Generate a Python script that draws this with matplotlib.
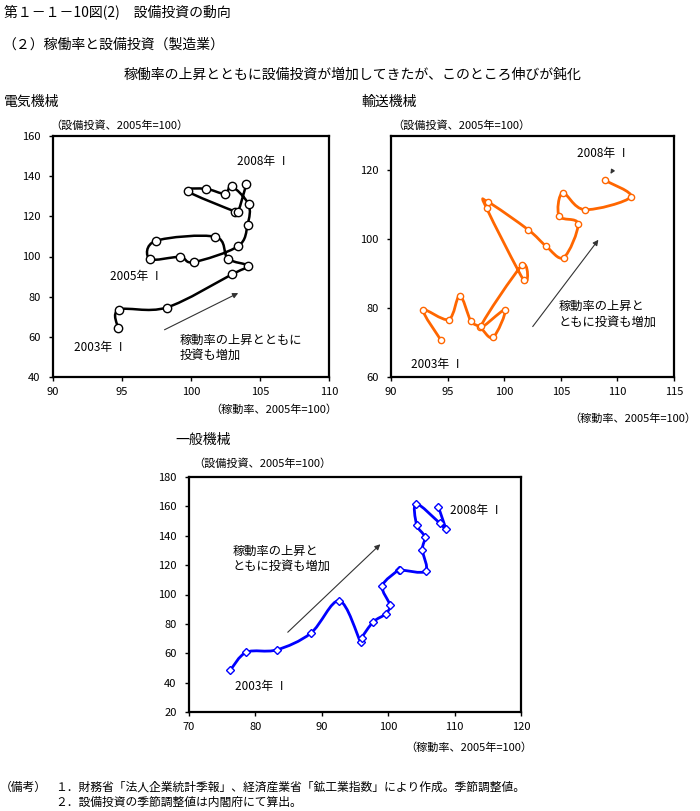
import numpy as np
import matplotlib
matplotlib.use("Agg")
import matplotlib.pyplot as plt
from matplotlib.path import Path
from matplotlib.patches import PathPatch

plt.rcParams["font.family"] = ["Noto Sans CJK JP", "DejaVu Sans"]

# 電気機械 (2003 I - 2008 I)
elec_util = [94.72, 94.77, 98.24, 102.99, 104.10, 102.67, 101.76, 97.45, 97.01, 99.20, 100.19,
             103.40, 104.10, 104.17, 102.94, 102.46, 101.08, 99.76, 103.18, 103.42, 104.02]
elec_inv = [64.2, 73.5, 74.6, 91.2, 95.4, 99.0, 109.8, 107.8, 98.7, 99.8, 97.2,
            105.1, 115.9, 126.0, 135.0, 131.2, 133.7, 132.5, 122.4, 122.4, 136.2]

# 輸送機械
trans_util = [94.39, 92.86, 95.10, 96.07, 97.04, 97.86, 99.01, 100.07, 97.95, 101.55, 101.72,
              98.45, 98.54, 102.11, 103.67, 105.26, 106.52, 104.85, 105.17, 107.11, 111.18, 108.91]
trans_inv = [70.8, 79.4, 76.7, 83.6, 76.4, 74.5, 71.5, 79.5, 74.8, 92.4, 88.1,
             109.0, 110.9, 102.8, 98.1, 94.7, 104.5, 106.7, 113.5, 108.6, 112.3, 117.1]

# 一般機械
gen_util = [76.24, 78.65, 83.21, 88.33, 92.64, 95.86, 96.00, 97.76, 99.62, 100.22, 99.12,
            101.58, 101.83, 105.64, 105.14, 105.49, 104.28, 104.23, 107.80, 108.65, 107.55]
gen_inv = [48.6, 60.7, 62.3, 73.6, 95.7, 67.5, 70.5, 81.4, 86.8, 93.0, 105.9,
           116.8, 116.8, 115.9, 130.5, 139.3, 147.5, 161.8, 148.4, 144.5, 159.8]

NOTE_TEXT = "稼動率の上昇と\nともに投資も増加"
Y_UNIT = "（設備投資、2005年=100）"
X_UNIT = "（稼動率、2005年=100）"


def smooth_line(ax, xs, ys, color, lw):
    # catmull-rom style bezier through the points (like spreadsheet smoothed lines)
    p = np.column_stack([xs, ys]).astype(float)
    n = len(p)
    verts = [p[0]]
    codes = [Path.MOVETO]
    for i in range(n - 1):
        p0 = p[i - 1] if i > 0 else p[i]
        p3 = p[i + 2] if i + 2 < n else p[i + 1]
        c1 = p[i] + (p[i + 1] - p0) / 6.0
        c2 = p[i + 1] - (p3 - p[i]) / 6.0
        verts += [c1, c2, p[i + 1]]
        codes += [Path.CURVE4] * 3
    patch = PathPatch(Path(verts, codes), facecolor="none", edgecolor=color, lw=lw,
                      capstyle="round", joinstyle="round", zorder=2)
    ax.add_patch(patch)


def setup_axes(ax, xlim, xstep, ylim, ystep):
    ax.set_xlim(*xlim)
    ax.set_ylim(*ylim)
    ax.set_xticks(np.arange(xlim[0], xlim[1] + 0.1, xstep))
    ax.set_yticks(np.arange(ylim[0], ylim[1] + 0.1, ystep))
    for s in ax.spines.values():
        s.set_linewidth(1.6)
    ax.tick_params(direction="out", length=3, width=1, labelsize=8)
    ax.tick_params(axis="x", pad=4)
    ax.tick_params(axis="y", pad=6)


def draw_series(ax, xs, ys, color, lw, marker, ms):
    smooth_line(ax, xs, ys, color, lw)
    ax.plot(xs, ys, linestyle="none", marker=marker, ms=ms, mfc="white", mec=color,
            mew=1.0, zorder=3)


def arrow(ax, start, end, scale=8):
    ax.annotate("", xy=end, xytext=start,
                arrowprops=dict(arrowstyle="-|>", color="#333333", lw=0.8, mutation_scale=scale))


fig = plt.figure(figsize=(7, 8.11), dpi=100)

fig.text(0.005, 1 - 12 / 811, "第１－１－10図(2)　設備投資の動向", fontsize=10, va="center")
fig.text(0.004, 1 - 45 / 811, "（２）稼働率と設備投資（製造業）", fontsize=10, va="center")
fig.text(0.503, 1 - 75 / 811, "稼働率の上昇とともに設備投資が増加してきたが、このところ伸びが鈍化",
         fontsize=10, va="center", ha="center")
fig.text(0.005, 1 - 102 / 811, "電気機械", fontsize=10, va="center")
fig.text(362 / 700, 1 - 102 / 811, "輸送機械", fontsize=10, va="center")
fig.text(175 / 700, 1 - 440 / 811, "一般機械", fontsize=10, va="center")

# 電気機械
ax1 = fig.add_axes([53 / 700, 1 - 377 / 811, 276 / 700, 241 / 811])
setup_axes(ax1, (90, 110), 5, (40, 160), 20)
draw_series(ax1, elec_util, elec_inv, "black", 1.8, "o", 6)
ax1.text(103.3, 147.4, "2008年 Ⅰ", fontsize=8.5, va="center")
ax1.text(94.1, 90.2, "2005年 Ⅰ", fontsize=8.5, va="center")
ax1.text(91.5, 54.6, "2003年 Ⅰ", fontsize=8.5, va="center")
arrow(ax1, (97.9, 62.9), (103.6, 82.4))
ax1.text(99.2, 54.6, "稼動率の上昇とともに\n投資も増加", fontsize=8.8, va="center", linespacing=1.25)
fig.text(50 / 700, 1 - 126 / 811, Y_UNIT, fontsize=8, va="center")
fig.text(337 / 700, 1 - 410 / 811, X_UNIT, fontsize=8, va="center", ha="right")

# 輸送機械
ax2 = fig.add_axes([391 / 700, 1 - 377 / 811, 283 / 700, 241 / 811])
setup_axes(ax2, (90, 115), 5, (60, 130), 20)
draw_series(ax2, trans_util, trans_inv, "#FF6600", 2.0, "o", 4.5)
ax2.text(106.4, 124.8, "2008年 Ⅰ", fontsize=8.5, va="center")
arrow(ax2, (109.73, 120.8), (109.26, 118.3), scale=6)
ax2.text(91.8, 63.75, "2003年 Ⅰ", fontsize=8.5, va="center")
arrow(ax2, (102.37, 74.0), (108.47, 100.5))
ax2.text(104.8, 78.2, NOTE_TEXT, fontsize=8.8, va="center", linespacing=1.25)
fig.text(392 / 700, 1 - 126 / 811, Y_UNIT, fontsize=8, va="center")
fig.text(696 / 700, 1 - 419 / 811, X_UNIT, fontsize=8, va="center", ha="right")

# 一般機械
ax3 = fig.add_axes([189 / 700, 1 - 712 / 811, 332 / 700, 235 / 811])
setup_axes(ax3, (70, 120), 10, (20, 180), 20)
draw_series(ax3, gen_util, gen_inv, "#0000FF", 2.0, "D", 4.5)
ax3.text(109.25, 157.5, "2008年 Ⅰ", fontsize=8.5, va="center")
ax3.text(76.9, 37.7, "2003年 Ⅰ", fontsize=8.5, va="center")
arrow(ax3, (84.57, 73.0), (99.12, 135.5))
ax3.text(76.6, 124.3, NOTE_TEXT, fontsize=8.8, va="center", linespacing=1.25)
fig.text(193 / 700, 1 - 464 / 811, Y_UNIT, fontsize=8, va="center")
fig.text(532 / 700, 1 - 748 / 811, X_UNIT, fontsize=8, va="center", ha="right")

fig.text(0.0, 1 - 787 / 811, "（備考）", fontsize=8.5, va="center")
fig.text(55 / 700, 1 - 787 / 811,
         "１．財務省「法人企業統計季報」、経済産業省「鉱工業指数」により作成。季節調整値。",
         fontsize=8.5, va="center")
fig.text(55 / 700, 1 - 802 / 811, "２．設備投資の季節調整値は内閣府にて算出。", fontsize=8.5, va="center")

fig.savefig("out.png", dpi=100)
